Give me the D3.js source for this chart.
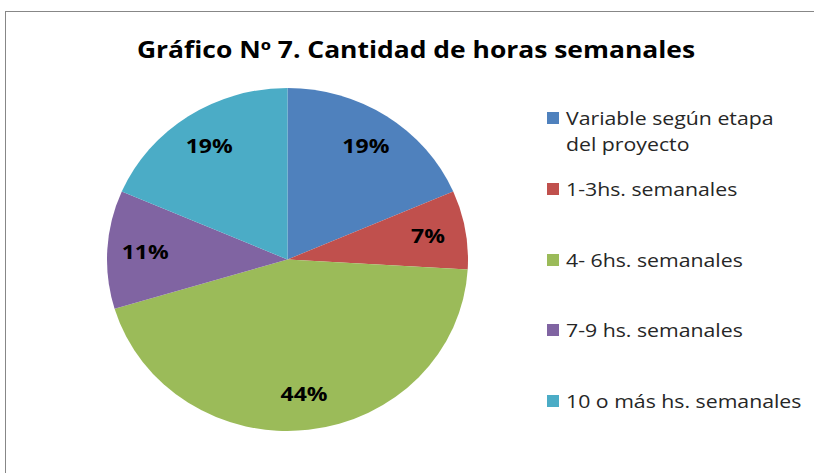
<!DOCTYPE html>
<html>
<head>
<meta charset="utf-8">
<script src="https://cdn.jsdelivr.net/npm/d3@7"></script>
<style>
  body { margin: 0; background: white; }
  text { font-family: "Open Sans", Lato, sans-serif; }
</style>
</head>
<body>
<div id="chart"></div>
<script>
// data (counts give 19/7/44/11/19 %)
var categories = ["Variable según etapa del proyecto", "1-3hs. semanales", "4- 6hs. semanales", "7-9 hs. semanales", "10 o más hs. semanales"];
var counts = [5, 2, 12, 3, 5];
var pctLabels = ["19%", "7%", "44%", "11%", "19%"];
var colors = ["#4F81BD", "#C0504D", "#9BBB59", "#8064A2", "#4BACC6"];

var width = 814, height = 473;
// the original picture is a bit stretched sideways
var stretch = 1.15;

var svg = d3.select("#chart")
   .append("svg")
   .attr("width", width)
   .attr("height", height);

// chart frame
svg.append("rect")
   .attr("x", 5.5)
   .attr("y", 11.5)
   .attr("width", 900)
   .attr("height", 600)
   .attr("fill", "white")
   .attr("stroke", "#878787")
   .attr("stroke-width", 1);

// title
svg.append("text")
   .attr("transform", "translate(416,58) scale(" + stretch + ",1)")
   .attr("text-anchor", "middle")
   .style("font-size", "23px")
   .style("font-weight", "bold")
   .style("fill", "#000")
   .text("Gráfico Nº 7. Cantidad de horas semanales");

// pie (slightly squashed vertically like the original)
var r = 180.5;
var pieG = svg.append("g")
   .attr("transform", "translate(287.5,259.5) scale(1," + (171.5 / 180.5) + ")");

var pie = d3.pie().sort(null).value(function (d) { return d; });
var arcs = pie(counts);
var arc = d3.arc().innerRadius(0).outerRadius(r);
var labelArc = d3.arc().innerRadius(r * 0.79).outerRadius(r * 0.79);

pieG.selectAll("path")
   .data(arcs)
   .enter()
   .append("path")
   .attr("d", arc)
   .attr("fill", function (d, i) { return colors[i]; });

svg.append("g")
   .attr("transform", "translate(287.5,259.5)")
   .selectAll("text")
   .data(arcs)
   .enter()
   .append("text")
   .attr("transform", function (d) {
      var c = labelArc.centroid(d);
      return "translate(" + c[0] + "," + (c[1] * 171.5 / 180.5) + ") scale(" + stretch + ",1)";
   })
   .attr("dy", "0.35em")
   .attr("text-anchor", "middle")
   .style("font-size", "20px")
   .style("font-weight", "bold")
   .style("fill", "#000")
   .text(function (d, i) { return pctLabels[i]; });

// legend
var legendRows = [
   { lines: ["Variable según etapa", "del proyecto"], y: 125 },
   { lines: ["1-3hs. semanales"], y: 196 },
   { lines: ["4- 6hs. semanales"], y: 267 },
   { lines: ["7-9 hs. semanales"], y: 337 },
   { lines: ["10 o más hs. semanales"], y: 408 }
];

var legend = svg.append("g");
legendRows.forEach(function (row, i) {
   legend.append("rect")
      .attr("x", 547)
      .attr("y", row.y - 13)
      .attr("width", 12)
      .attr("height", 12)
      .attr("fill", colors[i]);
   var t = legend.append("text")
      .attr("transform", "translate(566," + row.y + ") scale(" + stretch + ",1)")
      .style("font-size", "18.5px")
      .style("fill", "#262626");
   row.lines.forEach(function (line, j) {
      t.append("tspan")
         .attr("x", 0)
         .attr("dy", j === 0 ? 0 : 26)
         .text(line);
   });
});
</script>
</body>
</html>
